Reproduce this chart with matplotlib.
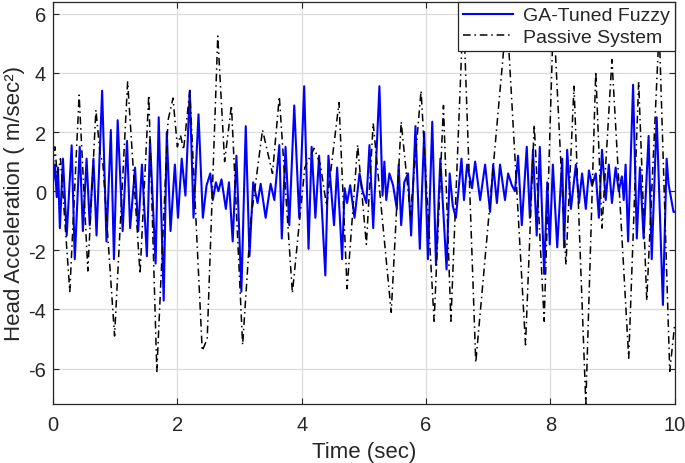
import numpy as np
import matplotlib.pyplot as plt
from matplotlib import font_manager

# passive system: extrema (time in sec, accel in m/sec^2)
t_passive = [0.00, 0.03, 0.07, 0.12, 0.27, 0.42, 0.56, 0.69, 0.76, 0.80,
             0.99, 1.20, 1.40, 1.54, 1.67, 1.85, 1.93, 2.00, 2.05, 2.10,
             2.20, 2.40, 2.48, 2.65, 2.76, 2.87, 3.05, 3.18, 3.37, 3.53,
             3.64, 3.85, 4.05, 4.20, 4.30, 4.40, 4.60, 4.73, 4.90, 5.04,
             5.15, 5.44, 5.60, 5.75, 5.92, 6.13, 6.28, 6.40, 6.60, 6.80,
             7.30, 7.60, 7.74, 7.90, 8.05, 8.25, 8.38, 8.57, 8.73, 8.83,
             8.99, 9.26, 9.42, 9.55, 9.75, 9.92, 10.00]
a_passive = [0.8, 1.5, 0.5, 1.1, -3.4, 3.25, -2.7, 2.75, 1.2, 1.0,
             -4.9, 3.7, -2.8, 3.25, -6.1, 2.4, 3.15, 1.5, 1.9, 1.4,
             3.4, -5.4, -5.0, 5.25, 1.0, 2.9, -5.2, -1.0, 2.07, 0.6,
             3.2, -3.45, 0.8, 1.45, 0.9, -0.5, 3.0, -3.3, 1.57, -1.8,
             2.3, -4.1, 2.35, -0.8, 3.4, -4.4, 2.9, -4.4, 6.2, -5.8,
             6.0, -5.2, 2.25, -4.4, 6.0, -2.5, 3.55, -7.2, 4.05, -1.25,
             4.45, -5.65, 3.7, -3.7, 5.5, -6.1, -4.5]

# GA-tuned fuzzy controller
t_fuzzy = [0.00, 0.03, 0.06, 0.08, 0.11, 0.16, 0.22, 0.30, 0.35, 0.43,
           0.48, 0.54, 0.59, 0.65, 0.70, 0.79, 0.86, 0.93, 0.98, 1.04,
           1.12, 1.19, 1.24, 1.32, 1.37, 1.43, 1.51, 1.56, 1.65, 1.70,
           1.78, 1.83, 1.89, 1.96, 2.01, 2.07, 2.13, 2.20, 2.26, 2.34,
           2.41, 2.47, 2.53, 2.57, 2.62, 2.66, 2.71, 2.78, 2.83, 2.89,
           2.95, 3.03, 3.10, 3.16, 3.22, 3.29, 3.34, 3.42, 3.50, 3.56,
           3.64, 3.68, 3.74, 3.80, 3.88, 3.96, 4.04, 4.11, 4.16, 4.22,
           4.28, 4.38, 4.43, 4.52, 4.57, 4.65, 4.69, 4.73, 4.78, 4.85,
           4.93, 4.98, 5.04, 5.09, 5.15, 5.25, 5.30, 5.33, 5.36, 5.41,
           5.47, 5.53, 5.56, 5.60, 5.65, 5.71, 5.76, 5.83, 5.90, 5.97,
           6.03, 6.10, 6.16, 6.23, 6.33, 6.38, 6.43, 6.48, 6.57, 6.61,
           6.66, 6.74, 6.79, 6.87, 6.95, 7.03, 7.08, 7.14, 7.19, 7.27,
           7.32, 7.38, 7.43, 7.48, 7.54, 7.62, 7.67, 7.72, 7.78, 7.83,
           7.90, 7.95, 7.99, 8.04, 8.11, 8.19, 8.22, 8.27, 8.33, 8.41,
           8.46, 8.51, 8.57, 8.62, 8.67, 8.73, 8.78, 8.83, 8.89, 8.94,
           8.99, 9.05, 9.10, 9.15, 9.18, 9.21, 9.25, 9.33, 9.39, 9.44,
           9.50, 9.58, 9.63, 9.71, 9.81, 9.87, 9.90, 9.98, 10.00]
a_fuzzy = [0.3, 0.9, -0.2, 0.8, -1.25, 1.1, -1.5, 1.55, -2.3, 1.5,
           -1.35, 1.1, -1.15, 1.1, -1.5, 3.4, -1.7, 2.07, -2.3, 2.4,
           -1.35, 1.7, -1.25, 0.8, -1.35, 0.9, -2.2, 1.73, -2.45, 2.5,
           -3.7, 2.0, -1.35, 0.9, -0.9, 1.1, -0.15, 3.4, -0.9, 2.6,
           -0.9, 0.2, 0.6, -0.3, 0.3, 0.0, 0.4, -0.6, 0.3, -1.7,
           1.2, -3.4, 2.2, -2.2, 0.3, -0.4, 0.25, -0.9, 0.25, -0.3,
           1.56, -1.6, 1.5, -1.15, 2.9, -0.9, 3.55, -1.95, 1.5, -0.9,
           1.2, -2.85, 1.2, -1.15, 0.8, -2.3, 0.1, -0.4, 0.2, -0.9,
           0.6, 0.0, -0.4, 1.56, -1.25, 3.55, -0.15, 1.0, -0.3, 0.6,
           0.2, -0.6, 0.9, -1.15, 0.3, 0.6, -1.5, 2.2, -1.95, 2.0,
           -2.3, 2.35, -2.5, 1.1, -2.65, 0.6, -0.5, -0.9, 1.1, -0.3,
           0.9, 0.1, 1.0, -0.3, 0.9, -0.7, 0.9, -0.4, 0.9, -0.3,
           0.6, 0.2, 0.0, 1.2, -1.15, 1.5, -0.9, 1.4, -1.5, 1.5,
           -2.8, 0.3, -1.8, 0.9, -1.9, 1.1, -1.9, 1.4, -0.6, 0.9,
           -0.4, 0.6, -0.6, 0.7, 0.2, 0.6, -0.9, 1.4, -0.3, 0.9,
           -0.4, 0.8, 0.0, 0.5, -0.3, 0.9, -1.7, 3.6, -1.6, 0.8,
           -1.6, 1.87, -2.3, 2.5, -3.85, 1.1, 0.25, -0.7, -0.7]

x_ticks = [0, 2, 4, 6, 8, 10]
y_ticks = [-6, -4, -2, 0, 2, 4, 6]

names = {f.name for f in font_manager.fontManager.ttflist}
fam = 'Liberation Sans Narrow' if 'Liberation Sans Narrow' in names else 'Liberation Sans'
plt.rcParams['font.family'] = [fam, 'DejaVu Sans']
plt.rcParams['axes.unicode_minus'] = False

dark = '#262626'
fig = plt.figure(figsize=(6.85, 4.64), dpi=100)
ax = fig.add_axes([0.0774, 0.1272, 0.9076, 0.8663])

ax.plot(t_fuzzy, a_fuzzy, color='blue', lw=1.5, label='GA-Tuned Fuzzy')
ax.plot(t_passive, a_passive, color='black', lw=1.1, ls=(0, (5, 2.5, 1, 2.5)),
        label='Passive System')

ax.set_xlim(0, 10)
ax.set_ylim(-7.2, 6.4)
ax.set_xticks(x_ticks)
ax.set_yticks(y_ticks)
ax.grid(True, color='#dcdcdc', lw=0.9)
ax.set_axisbelow(True)
ax.tick_params(direction='in', top=True, right=True, length=4, width=0.8,
               colors=dark, labelsize=14.5, pad=5)
ax.tick_params(axis='x', pad=8)
for s in ax.spines.values():
    s.set_color(dark)
    s.set_linewidth(0.9)

ax.set_xlabel('Time (sec)', fontsize=16, color=dark, labelpad=5)
ax.set_ylabel('Head Acceleration ( m/sec²)', fontsize=16, color=dark, labelpad=2)

leg = ax.legend(loc='upper right', borderaxespad=0, fancybox=False,
                framealpha=1, edgecolor=dark, fontsize=14, handlelength=2.6,
                labelspacing=0.2, borderpad=0.25, handletextpad=0.5)
leg.get_frame().set_linewidth(0.9)
for txt in leg.get_texts():
    txt.set_color(dark)

fig.savefig('out.png', dpi=100)
